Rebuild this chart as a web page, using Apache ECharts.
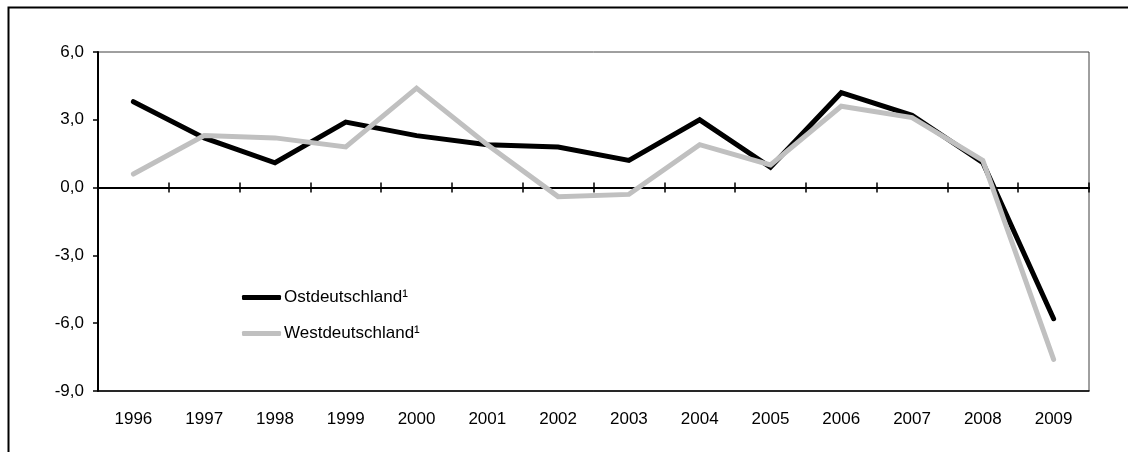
<!DOCTYPE html>
<html>
<head>
<meta charset="utf-8">
<script src="https://cdn.jsdelivr.net/npm/echarts@6/dist/echarts.min.js"></script>
<style>
  html, body { margin: 0; padding: 0; background: #fff; }
  #chart { width: 1128px; height: 452px; }
</style>
</head>
<body>
<div id="chart"></div>
<script>
// Jahre und Werte
var years = ['1996', '1997', '1998', '1999', '2000', '2001', '2002', '2003', '2004', '2005', '2006', '2007', '2008', '2009']
var ost = [3.8, 2.2, 1.1, 2.9, 2.3, 1.9, 1.8, 1.2, 3.0, 0.9, 4.2, 3.2, 1.1, -5.8]
var west = [0.6, 2.3, 2.2, 1.8, 4.4, 1.9, -0.4, -0.3, 1.9, 1.0, 3.6, 3.1, 1.2, -7.6]
var seriesNames = ['Ostdeutschland¹', 'Westdeutschland¹']

var font = 'Liberation Sans, Arial, sans-serif'
var fs = 17

var chart = echarts.init(document.getElementById('chart'))
chart.setOption({
  animation: false,
  backgroundColor: '#fff',
  textStyle: { fontFamily: font },
  graphic: [{
    type: 'rect',
    left: 6,
    top: 5,
    shape: { width: 1300, height: 600 },
    style: { fill: 'none', stroke: '#000', lineWidth: 2 },
    silent: true
  }],
  grid: {
    left: 98,
    top: 52,
    right: 39,
    bottom: 61,
    show: true,
    borderColor: '#404040',
    borderWidth: 1
  },
  legend: {
    orient: 'vertical',
    left: 237,
    top: 283,
    itemWidth: 39,
    itemHeight: 5,
    itemGap: 17,
    icon: 'roundRect',
    textStyle: { fontFamily: font, fontSize: fs, color: '#000', lineHeight: 19, padding: [0, 0, 0, -2] },
    data: seriesNames
  },
  xAxis: [{
    // Beschriftung unten
    type: 'category',
    data: years,
    position: 'bottom',
    boundaryGap: true,
    axisLine: { onZero: false, lineStyle: { color: '#000', width: 1.5 } },
    axisTick: { show: false },
    axisLabel: { fontFamily: font, fontSize: fs, color: '#000', margin: 20 },
    splitLine: { show: false }
  }, {
    // Nulllinie, Striche nach oben
    type: 'category',
    data: years,
    position: 'top',
    boundaryGap: true,
    axisLine: { onZero: true, onZeroAxisIndex: 0, lineStyle: { color: '#000', width: 2 } },
    axisTick: { show: true, interval: 0, length: 5, lineStyle: { color: '#000', width: 1.5 } },
    axisLabel: { show: false },
    splitLine: { show: false }
  }, {
    // Nulllinie, Striche nach unten
    type: 'category',
    data: years,
    position: 'top',
    boundaryGap: true,
    axisLine: { onZero: true, onZeroAxisIndex: 1, lineStyle: { color: '#000', width: 2 } },
    axisTick: { show: true, inside: true, interval: 0, length: 5, lineStyle: { color: '#000', width: 1.5 } },
    axisLabel: { show: false },
    splitLine: { show: false }
  }],
  yAxis: [{
    type: 'value',
    min: -9,
    max: 6,
    interval: 3,
    axisLine: { show: true, onZero: false, lineStyle: { color: '#000', width: 2 } },
    axisTick: { show: true, length: 5, lineStyle: { color: '#000', width: 1.5 } },
    axisLabel: {
      fontFamily: font,
      fontSize: fs,
      color: '#000',
      margin: 14,
      formatter: function (v) { return v.toFixed(1).replace('.', ',') }
    },
    splitLine: { show: false }
  }, {
    // nur als Bezug für die zweite Nulllinie
    type: 'value',
    min: -9,
    max: 6,
    interval: 3,
    position: 'right',
    axisLine: { show: false, onZero: false },
    axisTick: { show: false },
    axisLabel: { show: false },
    splitLine: { show: false }
  }],
  series: [{
    name: seriesNames[0],
    type: 'line',
    data: ost,
    showSymbol: false,
    symbol: 'none',
    color: '#000',
    lineStyle: { color: '#000', width: 5, cap: 'round', join: 'miter' }
  }, {
    name: seriesNames[1],
    type: 'line',
    data: west,
    showSymbol: false,
    symbol: 'none',
    color: '#c0c0c0',
    lineStyle: { color: '#c0c0c0', width: 5, cap: 'round', join: 'miter' }
  }]
})
</script>
</body>
</html>
